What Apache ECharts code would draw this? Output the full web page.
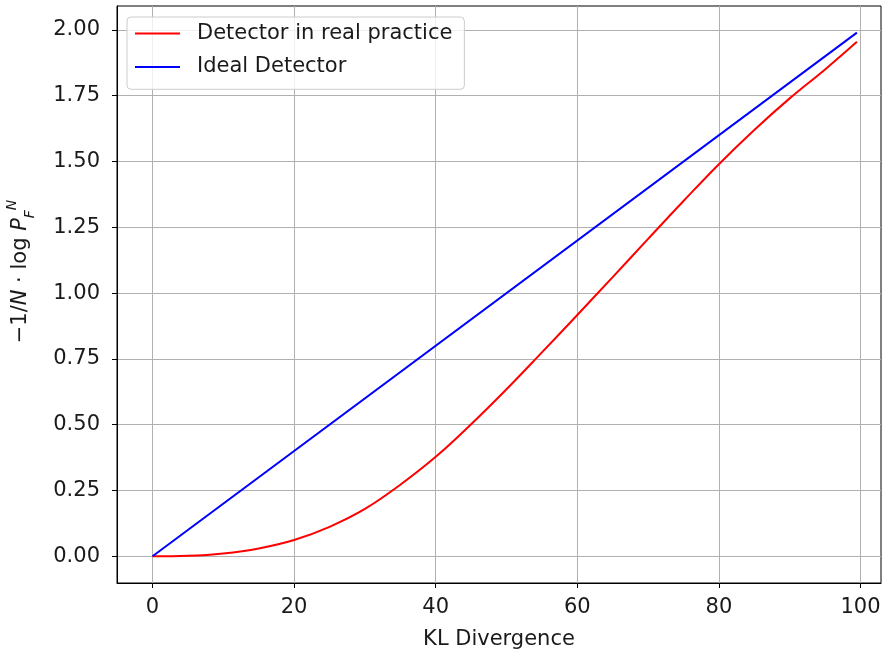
<!DOCTYPE html>
<html>
<head>
<meta charset="utf-8">
<script src="https://cdn.jsdelivr.net/npm/echarts@6/dist/echarts.min.js"></script>
<style>
html,body{margin:0;padding:0;background:#fff;}
#chart{width:882px;height:650px;}
</style>
</head>
<body>
<div id="chart"></div>
<script>
// ---- data ----
const klDivergence = [0, 5, 10, 15, 20, 25, 30, 35, 40, 45, 50, 55, 60, 65, 70, 75, 80, 85, 90, 95, 99.5];
const realDetector = [0, 0.002, 0.011, 0.030, 0.062, 0.112, 0.180, 0.272, 0.378, 0.502, 0.635, 0.775, 0.917, 1.061, 1.206, 1.350, 1.490, 1.620, 1.740, 1.850, 1.955];
const idealKL = [0, 99.5];
const idealDetector = [0, 1.99];
const xTicks = [0, 20, 40, 60, 80, 100];
const yTicks = [0, 0.25, 0.5, 0.75, 1.0, 1.25, 1.5, 1.75, 2.0];
const seriesNames = ['Detector in real practice', 'Ideal Detector'];

const FONT = 'DejaVu Sans';
const TXT = '#1a1a1a';
const FS = 21;

const chart = echarts.init(document.getElementById('chart'), null, {renderer: 'canvas'});
chart.setOption({
  backgroundColor: '#fff',
  animation: false,
  grid: {left: 117, right: 1, top: 6, bottom: 67, show: true, borderColor: '#000', borderWidth: 1,
         backgroundColor: 'transparent', containLabel: false, outerBoundsMode: 'none'},
  legend: {
    orient: 'vertical', left: 127, top: 17,
    data: seriesNames,
    icon: 'rect', itemWidth: 45, itemHeight: 2, itemGap: 11.4,
    padding: [5.6, 12, 11.3, 8],
    backgroundColor: 'rgba(255,255,255,0.8)', borderColor: '#cccccc', borderWidth: 1, borderRadius: 4,
    textStyle: {fontFamily: FONT, fontSize: FS, color: TXT, lineHeight: 22, padding: [0, 0, 0, 12]}
  },
  xAxis: {
    type: 'value', min: -5.02, max: 102.9,
    name: 'KL Divergence', nameLocation: 'middle', nameGap: 46,
    nameTextStyle: {fontFamily: FONT, fontSize: FS, color: TXT},
    axisLine: {show: true, onZero: false, lineStyle: {color: '#000', width: 1}},
    axisTick: {show: true, inside: false, length: 5, lineStyle: {color: '#000'}, customValues: xTicks},
    axisLabel: {fontFamily: FONT, fontSize: FS, color: TXT, margin: 14, customValues: xTicks, formatter: v => String(v)},
    splitLine: {show: true, lineStyle: {color: '#b0b0b0', width: 1}, customValues: xTicks}
  },
  yAxis: {
    type: 'value', min: -0.1014, max: 2.091,
    name: '−1/{i|N} · log {i|P}{sub|F}{sup|N}', nameLocation: 'middle', nameGap: 80, nameRotate: 90,
    nameTextStyle: {fontFamily: FONT, fontSize: FS, color: TXT, padding: [0, 0, 0, 46],
      rich: {
        i: {fontFamily: FONT, fontSize: FS, fontStyle: 'italic', color: TXT},
        sub: {fontFamily: FONT, fontSize: 14, fontStyle: 'italic', color: TXT, verticalAlign: 'bottom', lineHeight: 32},
        sup: {fontFamily: FONT, fontSize: 14, fontStyle: 'italic', color: TXT, verticalAlign: 'top', lineHeight: 32}
      }},
    axisLine: {show: true, onZero: false, lineStyle: {color: '#000', width: 1}},
    axisTick: {show: true, inside: false, length: 5, lineStyle: {color: '#000'}, customValues: yTicks},
    axisLabel: {fontFamily: FONT, fontSize: FS, color: TXT, margin: 17, customValues: yTicks, formatter: v => v.toFixed(2)},
    splitLine: {show: true, lineStyle: {color: '#b0b0b0', width: 1}, customValues: yTicks}
  },
  series: [
    {
      name: seriesNames[0], type: 'line', smooth: 0.4, showSymbol: false, symbol: 'none',
      color: '#ff0000', lineStyle: {color: '#ff0000', width: 2},
      data: klDivergence.map((x, i) => [x, realDetector[i]]), z: 3
    },
    {
      name: seriesNames[1], type: 'line', showSymbol: false, symbol: 'none',
      color: '#0000ff', lineStyle: {color: '#0000ff', width: 2},
      data: idealKL.map((x, i) => [x, idealDetector[i]]), z: 3
    }
  ]
});
</script>
</body>
</html>
